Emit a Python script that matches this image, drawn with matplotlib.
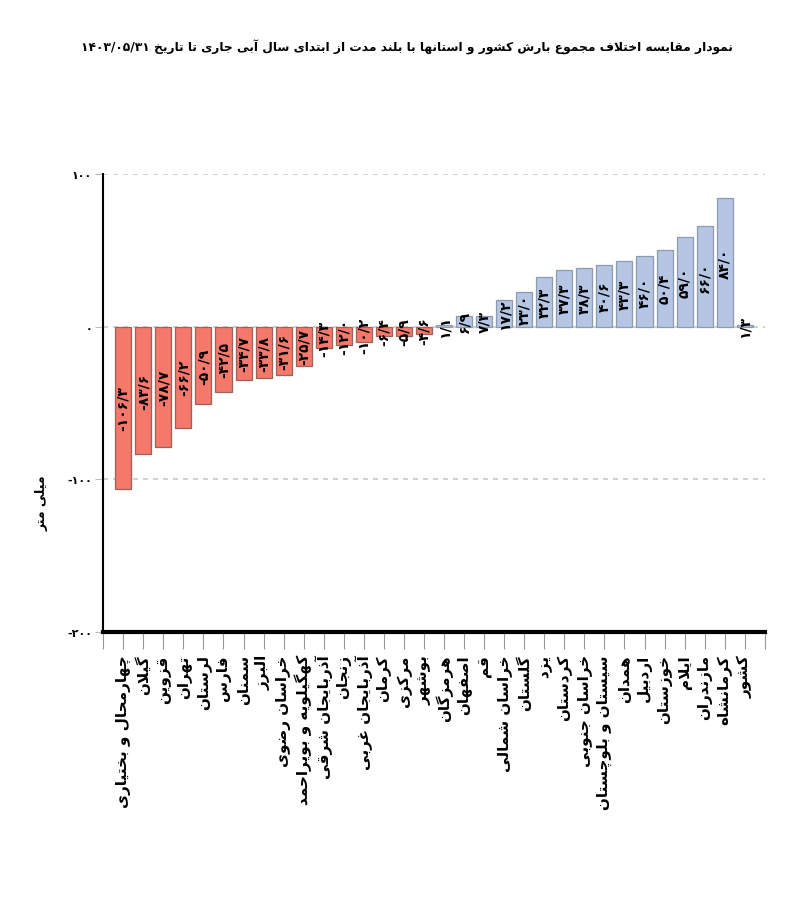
import matplotlib
matplotlib.use('Agg')
import matplotlib.pyplot as plt
import numpy as np

# data (mm, difference from long-term mean)
provinces = [
    'چهارمحال و بختیاری', 'گیلان', 'قزوین', 'تهران', 'لرستان', 'فارس', 'سمنان',
    'البرز', 'خراسان رضوی', 'کهگیلویه و بویراحمد', 'آذربایجان شرقی', 'زنجان',
    'آذربایجان غربی', 'کرمان', 'مرکزی', 'بوشهر', 'هرمزگان', 'اصفهان', 'قم',
    'خراسان شمالی', 'گلستان', 'یزد', 'کردستان', 'خراسان جنوبی',
    'سیستان و بلوچستان', 'همدان', 'اردبیل', 'خوزستان', 'ایلام', 'مازندران',
    'کرمانشاه', 'کشور',
]
values = [
    -106.3, -83.6, -78.7, -66.2, -50.9, -42.5, -34.7, -33.8, -31.6, -25.7,
    -14.3, -12.0, -10.2, -6.4, -5.9, -4.6, 1.1, 6.9, 7.3, 17.2, 23.0, 32.3,
    37.3, 38.3, 40.6, 43.3, 46.0, 50.4, 59.0, 66.0, 84.0, 1.3,
]
yticks = [-200, -100, 0, 100]
title = 'نمودار مقایسه اختلاف مجموع بارش کشور و استانها با بلند مدت از ابتدای سال آبی جاری تا تاریخ 1403/05/31'
ylabel = 'میلی متر'

# --- minimal Persian shaping (no arabic_reshaper / bidi available) ---
# char: (isolated, final, initial, medial); right-joining letters have no initial/medial
FORMS = {
    'ا': ('\uFE8D', '\uFE8E', None, None),
    'آ': ('\uFE81', '\uFE82', None, None),
    'ب': ('\uFE8F', '\uFE90', '\uFE91', '\uFE92'),
    'پ': ('\uFB56', '\uFB57', '\uFB58', '\uFB59'),
    'ت': ('\uFE95', '\uFE96', '\uFE97', '\uFE98'),
    'ث': ('\uFE99', '\uFE9A', '\uFE9B', '\uFE9C'),
    'ج': ('\uFE9D', '\uFE9E', '\uFE9F', '\uFEA0'),
    'چ': ('\uFB7A', '\uFB7B', '\uFB7C', '\uFB7D'),
    'ح': ('\uFEA1', '\uFEA2', '\uFEA3', '\uFEA4'),
    'خ': ('\uFEA5', '\uFEA6', '\uFEA7', '\uFEA8'),
    'د': ('\uFEA9', '\uFEAA', None, None),
    'ذ': ('\uFEAB', '\uFEAC', None, None),
    'ر': ('\uFEAD', '\uFEAE', None, None),
    'ز': ('\uFEAF', '\uFEB0', None, None),
    'ژ': ('\uFB8A', '\uFB8B', None, None),
    'س': ('\uFEB1', '\uFEB2', '\uFEB3', '\uFEB4'),
    'ش': ('\uFEB5', '\uFEB6', '\uFEB7', '\uFEB8'),
    'ص': ('\uFEB9', '\uFEBA', '\uFEBB', '\uFEBC'),
    'ض': ('\uFEBD', '\uFEBE', '\uFEBF', '\uFEC0'),
    'ط': ('\uFEC1', '\uFEC2', '\uFEC3', '\uFEC4'),
    'ظ': ('\uFEC5', '\uFEC6', '\uFEC7', '\uFEC8'),
    'ع': ('\uFEC9', '\uFECA', '\uFECB', '\uFECC'),
    'غ': ('\uFECD', '\uFECE', '\uFECF', '\uFED0'),
    'ف': ('\uFED1', '\uFED2', '\uFED3', '\uFED4'),
    'ق': ('\uFED5', '\uFED6', '\uFED7', '\uFED8'),
    'ک': ('\uFB8E', '\uFB8F', '\uFB90', '\uFB91'),
    'گ': ('\uFB92', '\uFB93', '\uFB94', '\uFB95'),
    'ل': ('\uFEDD', '\uFEDE', '\uFEDF', '\uFEE0'),
    'م': ('\uFEE1', '\uFEE2', '\uFEE3', '\uFEE4'),
    'ن': ('\uFEE5', '\uFEE6', '\uFEE7', '\uFEE8'),
    'و': ('\uFEED', '\uFEEE', None, None),
    'ه': ('\uFEE9', '\uFEEA', '\uFEEB', '\uFEEC'),
    'ی': ('\uFBFC', '\uFBFD', '\uFBFE', '\uFBFF'),
}
LAM_ALEF = {'ا': ('\uFEFB', '\uFEFC'), 'آ': ('\uFEF5', '\uFEF6')}
FA_DIGITS = str.maketrans('0123456789.', '۰۱۲۳۴۵۶۷۸۹/')


def dual(c):
    return c in FORMS and FORMS[c][2] is not None


def shape_word(word):
    out = []
    i = 0
    while i < len(word):
        c = word[i]
        if c not in FORMS:
            out.append(c)
            i += 1
            continue
        prev = word[i - 1] if i > 0 else ''
        joined_prev = dual(prev)
        if c == 'ل' and i + 1 < len(word) and word[i + 1] in LAM_ALEF:
            iso, fin = LAM_ALEF[word[i + 1]]
            out.append(fin if joined_prev else iso)
            i += 2
            continue
        nxt = word[i + 1] if i + 1 < len(word) else ''
        joined_next = dual(c) and nxt in FORMS
        iso, fin, ini, med = FORMS[c]
        if joined_prev and joined_next:
            out.append(med)
        elif joined_prev:
            out.append(fin)
        elif joined_next:
            out.append(ini)
        else:
            out.append(iso)
        i += 1
    return ''.join(reversed(out))


def fa(text):
    tokens = []
    for tok in text.split(' '):
        if any(ch in FORMS for ch in tok):
            tokens.append(shape_word(tok))
        else:
            tokens.append(tok.translate(FA_DIGITS))
    return ' '.join(reversed(tokens))


def fa_num(v, fmt='{:.1f}'):
    return fmt.format(v).translate(FA_DIGITS)


plt.rcParams['font.family'] = ['DejaVu Sans']

fig = plt.figure(figsize=(8, 9.04), dpi=100)
ax = fig.add_axes([0.129, 0.2998, 0.827, 0.5066])

x = np.arange(len(values))
colors = ['#F4796B' if v < 0 else '#B4C6E4' for v in values]
edges = ['#A0605A' if v < 0 else '#8E9AAE' for v in values]
ax.bar(x, values, width=0.8, color=colors, edgecolor=edges, linewidth=0.9, zorder=3)

for xi, v in zip(x, values):
    ax.text(xi, v / 2, fa_num(v), rotation=90, ha='center', va='center',
            fontsize=10, fontweight='bold', color='black', zorder=4)

ax.set_xlim(-1, 32)
ax.set_ylim(-200, 100)
ax.set_xticks([-1] + list(x) + [32])
ax.set_xticklabels([''] + [fa(p) for p in provinces] + [''], rotation=90,
                   ha='center', va='top', fontsize=11, fontweight='bold')
ax.set_yticks(yticks)
ax.set_yticklabels([fa_num(t, '{:d}') for t in yticks], fontsize=8, fontweight='bold')
ax.tick_params(axis='x', length=12, color='#999999', pad=4)
ax.tick_params(axis='y', length=6, color='#bbbbbb', pad=2)

for t in [100, 0, -100]:
    ax.axhline(t, color='#c8c8c8', linestyle=(0, (3, 3)), linewidth=1.2, zorder=1)

for s in ['top', 'right']:
    ax.spines[s].set_visible(False)
ax.spines['left'].set_linewidth(1.5)
ax.spines['bottom'].set_linewidth(3)

fig.text(0.053, 0.443, fa(ylabel), rotation=90, ha='center', va='center',
         fontsize=9, fontweight='bold')
fig.text(0.509, 0.947, fa(title), ha='center', va='center', fontsize=8.8, fontweight='bold')

fig.savefig('out.png', dpi=100)
